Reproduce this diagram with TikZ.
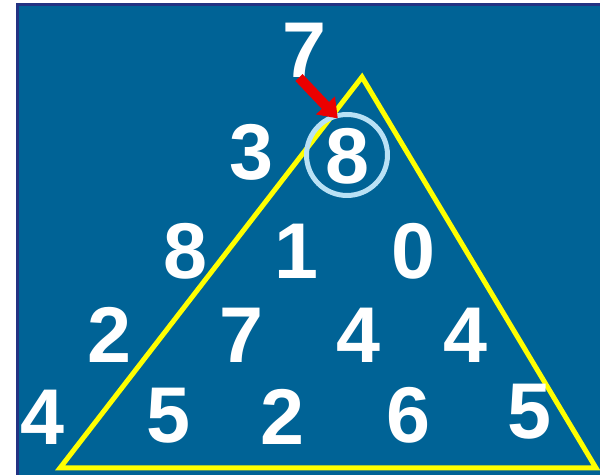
\documentclass[tikz,border=0pt]{standalone}
\usepackage{fontspec}
\setmainfont{Liberation Sans}
\usetikzlibrary{arrows.meta, positioning}
\definecolor{bgblue}{RGB}{0,99,150}
\definecolor{rimblue}{RGB}{35,50,130}
\definecolor{ringblue}{RGB}{185,225,245}
\definecolor{triyellow}{RGB}{255,255,0}
\definecolor{arrowred}{RGB}{235,0,0}

\begin{document}
\begin{tikzpicture}[
    x=0.02cm, y=-0.02cm,
    num/.style={text=white, inner sep=0pt, font=\bfseries\fontsize{45}{45}\selectfont},
    ring/.style={circle, draw=ringblue, line width=0.1cm, minimum size=1.62cm},
    arrow/.style={-{Triangle[length=0.36cm, width=0.5cm]}, line width=0.2cm, arrowred}
]
    \useasboundingbox (0,0) rectangle (600,475);
    % Background
    \fill[white] (0,0) rectangle (600,475);
    \filldraw[fill=bgblue, draw=rimblue, line width=0.06cm] (17.5,4.5) rectangle (603,478);

    % Triangle
    \coordinate (apex) at (362,77);
    \coordinate (base l) at (60,468);
    \coordinate (base r) at (596,468);
    \draw[triyellow, line width=0.1cm, line join=miter] (apex) -- (base l) -- (base r) -- cycle;

    % Row 0
    \node[num] (r0a) at (304,50) {7};
    % Row 1
    \node[num] (r1a) at (251,152) {3};
    \node[num] (r1b) at (347,156) {8};
    % Row 2
    \node[num] (r2a) at (185,251) {8};
    \node[num] (r2b) at (296,251) {1};
    \node[num] (r2c) at (413,251) {0};
    % Row 3
    \node[num] (r3a) at (109,335) {2};
    \node[num] (r3b) at (241,335) {7};
    \node[num] (r3c) at (358,335) {4};
    \node[num] (r3d) at (465,335) {4};
    % Row 4
    \node[num] (r4a) at (42,417) {4};
    \node[num] (r4b) at (168,416) {5};
    \node[num] (r4c) at (282,417) {2};
    \node[num] (r4d) at (408,415) {6};
    \node[num] (r4e) at (529,412) {5};

    % Ring and arrow
    \node[ring] (pick) at (347,155) {};
    \draw[arrow, shorten >=-0.12cm] ([xshift=-0.1cm]r0a.south) -- (pick.108);

\end{tikzpicture}
\end{document}
